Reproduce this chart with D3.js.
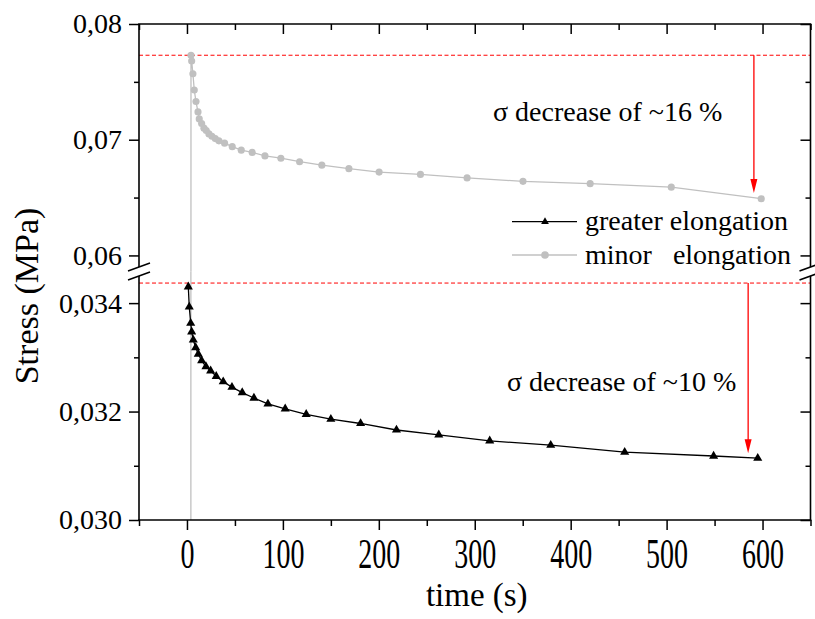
<!DOCTYPE html>
<html>
<head>
<meta charset="utf-8">
<script src="https://cdn.jsdelivr.net/npm/d3@7"></script>
<style>
  body { margin: 0; background: #fff; }
  svg { display: block; }
  text { font-family: "Liberation Serif", "Times New Roman", serif; fill: #000; }
</style>
</head>
<body>
<svg id="chart" width="815" height="619"></svg>
<script>
// ---- data: stress relaxation at two elongation levels ----
const timeGreater = [1.4, 2.4, 3.9, 4.9, 6.6, 9.1, 11.8, 15.3, 19.8, 24.7, 30.5, 37.8, 46.9, 57.6,
  69.8, 84.4, 102.4, 124.3, 150, 181, 218.4, 262.5, 315.6, 379.2, 456.3, 549, 595];
const stressGreater = [0.03430, 0.03393, 0.03363, 0.03347, 0.03332, 0.03318, 0.03306, 0.03294,
  0.03283, 0.03275, 0.03265, 0.03255, 0.03245, 0.03235, 0.03225, 0.03214, 0.03205, 0.03195,
  0.03186, 0.03178, 0.03166, 0.03157, 0.03146, 0.03138, 0.03125, 0.03118, 0.03114];

const timeMinor = [4.0, 4.2, 4.9, 6.2, 7.6, 9.4, 11.5, 12.8, 15.3, 17.7, 20.1, 22.9, 26, 29.5, 33.3,
  39.2, 47.2, 56.6, 68, 81.3, 97.9, 117.4, 140.6, 168.8, 200.3, 243.4, 292, 350.3, 420.3, 504.9, 598.6];
const stressMinor = [0, 0.0773, 0.0768, 0.0757, 0.0743, 0.0733, 0.0724, 0.0718, 0.0714, 0.0710,
  0.0708, 0.0705, 0.0703, 0.0701, 0.0699, 0.0697, 0.0694, 0.0691, 0.0689, 0.0686, 0.0684, 0.0681,
  0.0678, 0.0675, 0.0672, 0.0670, 0.0667, 0.0664, 0.0662, 0.0659, 0.0649];

// reference levels (initial stress) and the decrease arrows
const initialLevels = [0.0773, 0.03437];
const arrowTimes = [591, 585];
const arrowEnds = [0.0654, 0.03123];
const noteTexts = ["σ decrease of ~16 %", "σ decrease of ~10 %"];

// ticks
const xMajorTicks = [0, 100, 200, 300, 400, 500, 600];
const xMinorTicks = [-50, 50, 150, 250, 350, 450, 550, 650];
const upperMajorTicks = [0.06, 0.07, 0.08];
const upperMinorTicks = [0.065, 0.075];
const lowerMajorTicks = [0.030, 0.032, 0.034];
const lowerMinorTicks = [0.031, 0.033];

const seriesNames = ["greater elongation", "minor   elongation"];
const xTitle = "time (s)";
const yTitle = "Stress (MPa)";

// ---- layout ----
const L = 139, R = 810.5, T = 24, B = 520;
const upperBottom = 267, lowerTop = 276;
const gapMid = (upperBottom + lowerTop) / 2;

const svg = d3.select("#chart");
const x = d3.scaleLinear().domain([-50, 650]).range([L, R]);
const yUpper = d3.scaleLinear().domain([0.059, 0.08]).range([upperBottom, T]);
const yLower = d3.scaleLinear().domain([0.030, 0.0345]).range([B, lowerTop]);

const comma = f => v => d3.format(f)(v).replace(".", ",");
const grey = "#c0c0c0";

// clip regions for the two halves of the broken axis
const defs = svg.append("defs");
defs.append("clipPath").attr("id", "clipUpper").append("rect")
  .attr("x", L).attr("y", T).attr("width", R - L).attr("height", gapMid - T);
defs.append("clipPath").attr("id", "clipLower").append("rect")
  .attr("x", L).attr("y", gapMid).attr("width", R - L).attr("height", B - gapMid);

const panels = [
  { y: yUpper, clip: "url(#clipUpper)" },
  { y: yLower, clip: "url(#clipLower)" }
];

const greater = timeGreater.map((t, i) => [t, stressGreater[i]]);
const minor = timeMinor.map((t, i) => [t, stressMinor[i]]);
const minorMarkers = minor.filter(d => d[1] > 0);

panels.forEach((p, idx) => {
  const g = svg.append("g").attr("clip-path", p.clip);
  const line = d3.line().x(d => x(d[0])).y(d => p.y(d[1]));

  // red dashed reference line at the initial stress
  g.append("line")
    .attr("x1", L).attr("x2", R)
    .attr("y1", p.y(initialLevels[idx])).attr("y2", p.y(initialLevels[idx]))
    .attr("stroke", "#ff0000").attr("stroke-width", 1).attr("stroke-dasharray", "4,2.5");

  // minor elongation series
  g.append("path").datum(minor).attr("d", line)
    .attr("fill", "none").attr("stroke", grey).attr("stroke-width", 1.3);
  g.selectAll(null).data(minorMarkers).enter().append("path")
    .attr("d", d3.symbol(d3.symbolCircle, 40)())
    .attr("transform", d => `translate(${x(d[0])},${p.y(d[1])})`)
    .attr("fill", grey);

  // greater elongation series
  g.append("path").datum(greater).attr("d", line)
    .attr("fill", "none").attr("stroke", "#000").attr("stroke-width", 1.3);
  g.selectAll(null).data(greater).enter().append("path")
    .attr("d", d3.symbol(d3.symbolTriangle, 36)())
    .attr("transform", d => `translate(${x(d[0])},${p.y(d[1])})`)
    .attr("fill", "#000");

  // decrease arrow
  const ax = x(arrowTimes[idx]);
  const y0 = p.y(initialLevels[idx]);
  const y1 = p.y(arrowEnds[idx]);
  const headLen = 14, headHalf = 3.5;
  g.append("line").attr("x1", ax).attr("x2", ax).attr("y1", y0).attr("y2", y1 - headLen + 1)
    .attr("stroke", "#ff0000").attr("stroke-width", 1.3);
  g.append("path")
    .attr("d", `M${ax},${y1}L${ax - headHalf},${y1 - headLen}L${ax + headHalf},${y1 - headLen}Z`)
    .attr("fill", "#ff0000");
});

// ---- axes ----
const axisStyle = sel => {
  sel.select(".domain").remove();
  sel.selectAll(".tick line").attr("stroke", "#000").attr("stroke-width", 1.5);
  sel.selectAll("text").attr("font-size", 28)
    .attr("font-family", "'Liberation Serif','Times New Roman',serif");
};

// bottom (outward); the time labels use a tall, condensed look
svg.append("g").attr("transform", `translate(0,${B})`)
  .call(d3.axisBottom(x).tickValues(xMajorTicks).tickSize(10).tickFormat(d3.format("d")))
  .call(axisStyle)
  .call(g => g.selectAll("text")
    .attr("y", null).attr("dy", null)
    .attr("transform", "translate(0,47.5) scale(1,1.5)"));
svg.append("g").attr("transform", `translate(0,${B})`)
  .call(d3.axisBottom(x).tickValues(xMinorTicks).tickSize(6).tickFormat(""))
  .call(axisStyle);
// top (inward)
svg.append("g").attr("transform", `translate(0,${T})`)
  .call(d3.axisTop(x).tickValues(xMajorTicks).tickSize(-10).tickFormat(""))
  .call(axisStyle);
svg.append("g").attr("transform", `translate(0,${T})`)
  .call(d3.axisTop(x).tickValues(xMinorTicks).tickSize(-6).tickFormat(""))
  .call(axisStyle);

// left (outward) and right (inward), one pair per panel
[[yUpper, upperMajorTicks, upperMinorTicks, ".2f"], [yLower, lowerMajorTicks, lowerMinorTicks, ".3f"]]
  .forEach(([ys, major, minorT, fmt]) => {
    svg.append("g").attr("transform", `translate(${L},0)`)
      .call(d3.axisLeft(ys).tickValues(major).tickSize(10).tickPadding(7).tickFormat(comma(fmt)))
      .call(axisStyle);
    svg.append("g").attr("transform", `translate(${L},0)`)
      .call(d3.axisLeft(ys).tickValues(minorT).tickSize(5).tickFormat(""))
      .call(axisStyle);
    svg.append("g").attr("transform", `translate(${R},0)`)
      .call(d3.axisRight(ys).tickValues(major).tickSize(-10).tickFormat(""))
      .call(axisStyle);
    svg.append("g").attr("transform", `translate(${R},0)`)
      .call(d3.axisRight(ys).tickValues(minorT).tickSize(-5).tickFormat(""))
      .call(axisStyle);
  });

// frame with the axis break
const frame = svg.append("g").attr("stroke", "#000").attr("stroke-width", 1.6).attr("fill", "none");
frame.append("line").attr("x1", L - 0.8).attr("x2", R + 0.8).attr("y1", T).attr("y2", T);
frame.append("line").attr("x1", L - 0.8).attr("x2", R + 0.8).attr("y1", B).attr("y2", B);
[L, R].forEach(xx => {
  frame.append("line").attr("x1", xx).attr("x2", xx).attr("y1", T).attr("y2", upperBottom);
  frame.append("line").attr("x1", xx).attr("x2", xx).attr("y1", lowerTop).attr("y2", B);
  [upperBottom, lowerTop].forEach(yy => {
    frame.append("line")
      .attr("x1", xx - 11).attr("y1", yy + 4)
      .attr("x2", xx + 11).attr("y2", yy - 4);
  });
});

// ---- axis titles ----
svg.append("text").attr("x", (L + R) / 2 + 2).attr("y", 606)
  .attr("text-anchor", "middle").attr("font-size", 33).text(xTitle);
svg.append("text").attr("transform", "translate(38,296) rotate(-90)")
  .attr("text-anchor", "middle").attr("font-size", 34).text(yTitle);

// ---- annotations ----
svg.append("text").attr("x", 493).attr("y", 121).attr("font-size", 28).text(noteTexts[0]);
svg.append("text").attr("x", 507).attr("y", 391).attr("font-size", 28).text(noteTexts[1]);

// ---- legend ----
const legend = svg.append("g");
const legendRows = [
  { y: 221.7, stroke: "#000", symbol: d3.symbolTriangle, size: 26, fill: "#000" },
  { y: 255, stroke: grey, symbol: d3.symbolCircle, size: 46, fill: grey }
];
legendRows.forEach((r, i) => {
  legend.append("line").attr("x1", 512).attr("x2", 577).attr("y1", r.y).attr("y2", r.y)
    .attr("stroke", r.stroke).attr("stroke-width", 1.3);
  legend.append("path").attr("d", d3.symbol(r.symbol, r.size)())
    .attr("transform", `translate(545,${r.y})`).attr("fill", r.fill);
  legend.append("text").attr("x", 585).attr("y", r.y + 8.5).attr("font-size", 28)
    .style("white-space", "pre").text(seriesNames[i]);
});
</script>
</body>
</html>
